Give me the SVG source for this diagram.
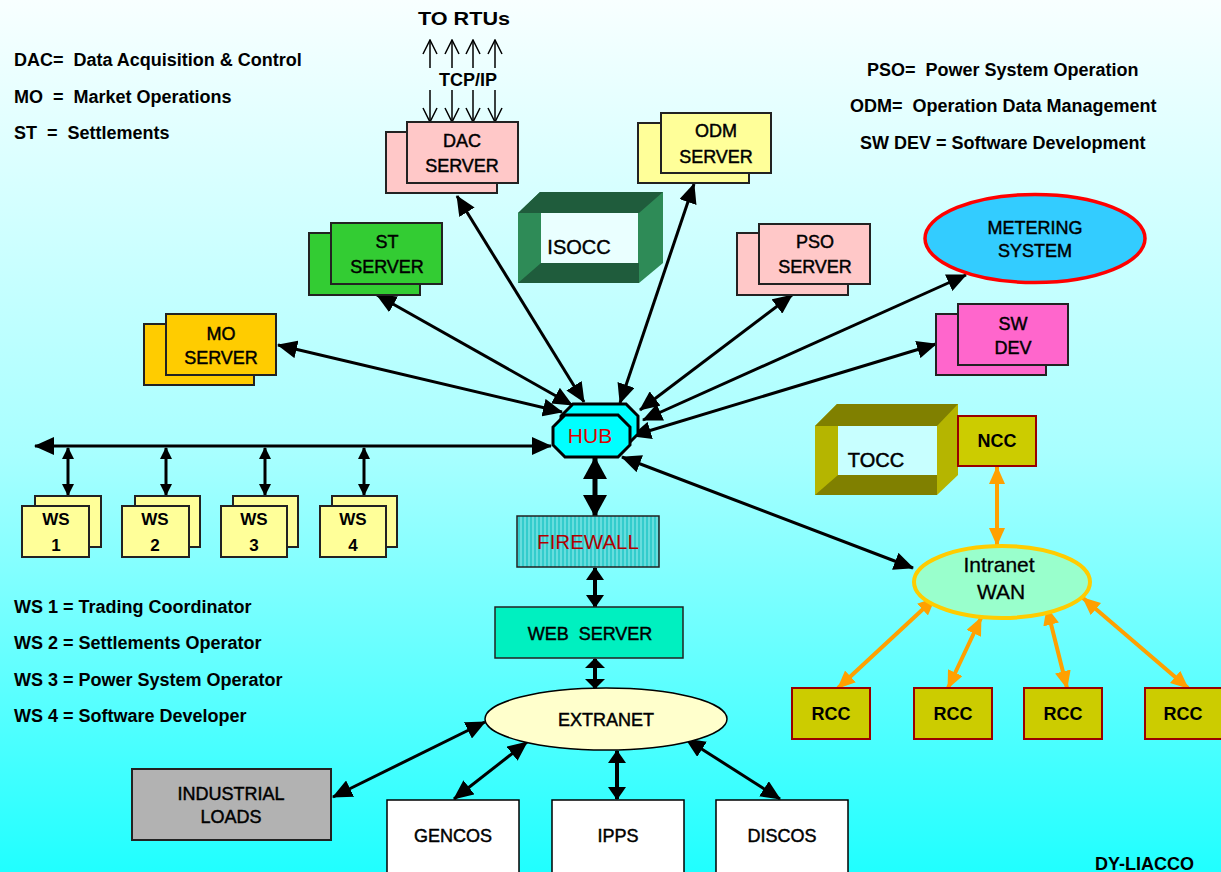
<svg xmlns="http://www.w3.org/2000/svg" width="1221" height="872" viewBox="0 0 1221 872">
<defs>
<linearGradient id="bg" x1="0" y1="0" x2="0" y2="1">
<stop offset="0" stop-color="#f8ffff"/>
<stop offset="0.52" stop-color="#a8ffff"/>
<stop offset="1" stop-color="#20ffff"/>
</linearGradient>
<pattern id="stripes" width="4" height="10" patternUnits="userSpaceOnUse">
<rect width="4" height="10" fill="#33cccc"/>
<rect width="2" height="10" fill="#66dddd"/>
</pattern>
<marker id="ab" viewBox="0 0 20 18" refX="19" refY="9" markerWidth="20" markerHeight="18" markerUnits="userSpaceOnUse" orient="auto-start-reverse"><path d="M0,0 L20,9 L0,18 z" fill="#000"/></marker>
<marker id="as" viewBox="0 0 12 12" refX="11" refY="6" markerWidth="12" markerHeight="12" markerUnits="userSpaceOnUse" orient="auto-start-reverse"><path d="M0,0 L12,6 L0,12 z" fill="#000"/></marker>
<marker id="ah" viewBox="0 0 22 24" refX="21" refY="12" markerWidth="22" markerHeight="24" markerUnits="userSpaceOnUse" orient="auto-start-reverse"><path d="M0,0 L22,12 L0,24 z" fill="#000"/></marker>
<marker id="am" viewBox="0 0 13 18" refX="12" refY="9" markerWidth="13" markerHeight="18" markerUnits="userSpaceOnUse" orient="auto-start-reverse"><path d="M0,0 L13,9 L0,18 z" fill="#000"/></marker>
<marker id="aw" viewBox="0 0 10 20" refX="9" refY="10" markerWidth="10" markerHeight="20" markerUnits="userSpaceOnUse" orient="auto-start-reverse"><path d="M0,0 L10,10 L0,20 z" fill="#000"/></marker>
<marker id="ao" viewBox="0 0 18 16" refX="17" refY="8" markerWidth="18" markerHeight="16" markerUnits="userSpaceOnUse" orient="auto-start-reverse"><path d="M0,0 L18,8 L0,16 z" fill="#ffa000"/></marker>
<marker id="ch" viewBox="0 0 16 16" refX="15" refY="8" markerWidth="16" markerHeight="16" markerUnits="userSpaceOnUse" orient="auto"><path d="M1,1 L15,8 L1,15" fill="none" stroke="#000" stroke-width="1.5"/></marker>
</defs>
<style>
text{font-family:"Liberation Sans",Arial,sans-serif;fill:#000}
.lg{font-size:18px;font-weight:bold;white-space:pre}
.lb{font-size:18px;text-anchor:middle;stroke:#000;stroke-width:0.45}
.lbb{font-size:18px;font-weight:bold;text-anchor:middle}
.ws{font-size:17px;font-weight:bold;text-anchor:middle}
.box{stroke:#222;stroke-width:2}
.c{stroke:#000;stroke-width:3;fill:none;marker-start:url(#ab);marker-end:url(#ab)}
.o{stroke:#ffa000;stroke-width:4;fill:none;marker-start:url(#ao);marker-end:url(#ao)}
.tcp{stroke:#000;stroke-width:1.5;fill:none;marker-end:url(#ch)}
.wsd{stroke:#000;stroke-width:3;fill:none;marker-start:url(#as);marker-end:url(#as)}
</style>
<rect width="1221" height="872" fill="url(#bg)"/>

<g id="legend">
<text class="lg" x="14" y="66" xml:space="preserve">DAC=  Data Acquisition &amp; Control</text>
<text class="lg" x="14" y="103" xml:space="preserve">MO  =  Market Operations</text>
<text class="lg" x="14" y="139" xml:space="preserve">ST  =  Settlements</text>
<text class="lg" x="867" y="76" xml:space="preserve">PSO=  Power System Operation</text>
<text class="lg" x="850" y="112" xml:space="preserve">ODM=  Operation Data Management</text>
<text class="lg" x="860" y="149">SW DEV = Software Development</text>
<text class="lg" x="14" y="613">WS 1 = Trading Coordinator</text>
<text class="lg" x="14" y="649">WS 2 = Settlements Operator</text>
<text class="lg" x="14" y="686">WS 3 = Power System Operator</text>
<text class="lg" x="14" y="722">WS 4 = Software Developer</text>
<text class="lg" x="1095" y="870">DY-LIACCO</text>
</g>

<g id="rtus">
<text x="464" y="25" font-size="19" font-weight="bold" text-anchor="middle" textLength="92" lengthAdjust="spacingAndGlyphs">TO RTUs</text>
<text x="468" y="86" font-size="18" font-weight="bold" text-anchor="middle">TCP/IP</text>
<line class="tcp" x1="430" y1="68" x2="430" y2="40"/>
<line class="tcp" x1="452" y1="68" x2="452" y2="40"/>
<line class="tcp" x1="473" y1="68" x2="473" y2="40"/>
<line class="tcp" x1="495" y1="68" x2="495" y2="40"/>
<line class="tcp" x1="430" y1="90" x2="430" y2="122"/>
<line class="tcp" x1="452" y1="90" x2="452" y2="122"/>
<line class="tcp" x1="473" y1="90" x2="473" y2="122"/>
<line class="tcp" x1="495" y1="90" x2="495" y2="122"/>
</g>

<g id="connectors">
<line class="c" x1="278" y1="345" x2="562" y2="412"/>
<line class="c" x1="377" y1="295" x2="572" y2="405"/>
<line class="c" x1="457" y1="196" x2="584" y2="402"/>
<line class="c" x1="694" y1="184" x2="620" y2="403"/>
<line class="c" x1="792" y1="295" x2="640" y2="410"/>
<line class="c" x1="966" y1="275" x2="643" y2="420"/>
<line class="c" x1="936" y1="344" x2="632" y2="436"/>
<line class="c" x1="913" y1="568" x2="622" y2="457"/>
<line class="c" x1="35" y1="446" x2="551" y2="446"/>
<line class="wsd" x1="68" y1="448" x2="68" y2="495"/>
<line class="wsd" x1="166" y1="448" x2="166" y2="495"/>
<line class="wsd" x1="265" y1="448" x2="265" y2="495"/>
<line class="wsd" x1="364" y1="448" x2="364" y2="495"/>
<line x1="595" y1="458" x2="595" y2="516" stroke="#000" stroke-width="5" marker-start="url(#ah)" marker-end="url(#ah)"/>
<line x1="595" y1="568" x2="595" y2="607" stroke="#000" stroke-width="4" marker-start="url(#am)" marker-end="url(#am)"/>
<line x1="595" y1="659" x2="595" y2="688" stroke="#000" stroke-width="4" marker-start="url(#aw)" marker-end="url(#aw)"/>
<line class="c" x1="485" y1="722" x2="333" y2="797"/>
<line class="c" x1="527" y1="742" x2="454" y2="799"/>
<line x1="617" y1="751" x2="617" y2="799" stroke="#000" stroke-width="4" marker-start="url(#am)" marker-end="url(#am)"/>
<line class="c" x1="686" y1="739" x2="780" y2="799"/>
<line class="o" x1="997" y1="467" x2="997" y2="545"/>
<line class="o" x1="935" y1="598" x2="838" y2="688"/>
<line class="o" x1="981" y1="618" x2="948" y2="688"/>
<line class="o" x1="1047" y1="608" x2="1067" y2="688"/>
<line class="o" x1="1083" y1="598" x2="1188" y2="688"/>
</g>

<g id="dac">
<rect class="box" x="386" y="132" width="111" height="61" fill="#ffc8c8"/>
<rect class="box" x="407" y="122" width="111" height="61" fill="#ffc8c8"/>
<text class="lb" x="462" y="147">DAC</text>
<text class="lb" x="462" y="172">SERVER</text>
</g>

<g id="odm">
<rect class="box" x="638" y="123" width="111" height="60" fill="#ffff99"/>
<rect class="box" x="661" y="113" width="110" height="60" fill="#ffff99"/>
<text class="lb" x="716" y="137">ODM</text>
<text class="lb" x="716" y="163">SERVER</text>
</g>

<g id="st">
<rect class="box" x="309" y="233" width="111" height="62" fill="#33cc33"/>
<rect class="box" x="331" y="223" width="111" height="61" fill="#33cc33"/>
<text class="lb" x="387" y="248">ST</text>
<text class="lb" x="387" y="273">SERVER</text>
</g>

<g id="pso">
<rect class="box" x="737" y="233" width="111" height="62" fill="#ffc8c8"/>
<rect class="box" x="759" y="224" width="111" height="60" fill="#ffc8c8"/>
<text class="lb" x="815" y="248">PSO</text>
<text class="lb" x="815" y="273">SERVER</text>
</g>

<g id="mo">
<rect class="box" x="144" y="324" width="110" height="61" fill="#ffcc00"/>
<rect class="box" x="166" y="314" width="110" height="61" fill="#ffcc00"/>
<text class="lb" x="221" y="340">MO</text>
<text class="lb" x="221" y="364">SERVER</text>
</g>

<g id="isocc">
<polygon points="518,213 540,192 663,192 663,263 639,283 518,283" fill="#2e8b57"/>
<polygon points="518,213 540,192 663,192 639,213" fill="#1f5c3c"/>
<polygon points="518,283 541,263 639,263 639,283" fill="#1f5c3c"/>
<rect x="541" y="213" width="97" height="50" fill="#eaffff"/>
<text x="579" y="254" font-size="20" text-anchor="middle" stroke="#000" stroke-width="0.4">ISOCC</text>
</g>

<g id="metering">
<ellipse cx="1035" cy="238.5" rx="110" ry="44" fill="#33ccff" stroke="#ff0000" stroke-width="3.5"/>
<text class="lb" x="1035" y="234">METERING</text>
<text class="lb" x="1035" y="257">SYSTEM</text>
</g>

<g id="swdev">
<rect class="box" x="936" y="314" width="110" height="61" fill="#ff66cc"/>
<rect class="box" x="958" y="304" width="110" height="61" fill="#ff66cc"/>
<text class="lb" x="1013" y="330">SW</text>
<text class="lb" x="1013" y="354">DEV</text>
</g>

<g id="hub">
<polygon points="573,404 626,404 638,416 638,434 626,446 573,446 561,434 561,416" fill="#00ffff" stroke="#000" stroke-width="3"/>
<polygon points="565,415 618,415 630,427 630,445 618,457 565,457 553,445 553,427" fill="#00ffff" stroke="#000" stroke-width="3"/>
<text x="590" y="443" font-size="21" style="fill:#dd0000" text-anchor="middle">HUB</text>
</g>

<g id="firewall">
<rect x="517" y="516" width="142" height="51" fill="url(#stripes)" stroke="#222" stroke-width="1.5"/>
<text x="588" y="549" font-size="20.5" style="fill:#b00000" text-anchor="middle">FIREWALL</text>
</g>

<g id="webserver">
<rect x="495" y="607" width="188" height="51" fill="#00f0c0" stroke="#222" stroke-width="1.5"/>
<text class="lb" x="590" y="640" xml:space="preserve" style="white-space:pre">WEB  SERVER</text>
</g>

<g id="extranet">
<ellipse cx="606" cy="719" rx="121" ry="31" fill="#ffffcc" stroke="#000" stroke-width="1.5"/>
<text class="lb" x="606" y="726">EXTRANET</text>
</g>

<g id="industrial">
<rect x="132" y="769" width="199" height="71" fill="#b2b2b2" stroke="#222" stroke-width="2"/>
<text class="lb" x="231" y="800">INDUSTRIAL</text>
<text class="lb" x="231" y="823">LOADS</text>
</g>

<g id="gencos">
<rect x="387" y="800" width="132" height="80" fill="#ffffff" stroke="#000" stroke-width="1.5"/>
<text class="lb" x="453" y="842">GENCOS</text>
</g>
<g id="ipps">
<rect x="552" y="800" width="132" height="80" fill="#ffffff" stroke="#000" stroke-width="1.5"/>
<text class="lb" x="618" y="842">IPPS</text>
</g>
<g id="discos">
<rect x="716" y="800" width="132" height="80" fill="#ffffff" stroke="#000" stroke-width="1.5"/>
<text class="lb" x="782" y="842">DISCOS</text>
</g>

<g id="ws1">
<rect class="box" x="35" y="496" width="66" height="51" fill="#ffff99"/>
<rect class="box" x="22" y="506" width="67" height="51" fill="#ffff99"/>
<text class="ws" x="56" y="525">WS</text>
<text class="ws" x="56" y="551">1</text>
</g>
<g id="ws2">
<rect class="box" x="135" y="496" width="65" height="51" fill="#ffff99"/>
<rect class="box" x="122" y="506" width="67" height="51" fill="#ffff99"/>
<text class="ws" x="155" y="525">WS</text>
<text class="ws" x="155" y="551">2</text>
</g>
<g id="ws3">
<rect class="box" x="233" y="496" width="65" height="51" fill="#ffff99"/>
<rect class="box" x="221" y="506" width="66" height="51" fill="#ffff99"/>
<text class="ws" x="254" y="525">WS</text>
<text class="ws" x="254" y="551">3</text>
</g>
<g id="ws4">
<rect class="box" x="332" y="496" width="65" height="51" fill="#ffff99"/>
<rect class="box" x="320" y="506" width="66" height="51" fill="#ffff99"/>
<text class="ws" x="353" y="525">WS</text>
<text class="ws" x="353" y="551">4</text>
</g>

<g id="tocc">
<polygon points="815,426 837,404 958,404 958,475 937,495 815,495" fill="#b5b500"/>
<polygon points="815,426 837,404 958,404 937,426" fill="#808000"/>
<polygon points="815,495 838,475 937,475 937,495" fill="#808000"/>
<rect x="838" y="426" width="99" height="49" fill="#c8ffff"/>
<text x="876" y="467" font-size="20" text-anchor="middle" stroke="#000" stroke-width="0.5">TOCC</text>
</g>

<g id="ncc">
<rect x="958" y="416" width="78" height="50" fill="#cccc00" stroke="#990000" stroke-width="2"/>
<text class="lbb" x="997" y="447">NCC</text>
</g>

<g id="intranet">
<ellipse cx="1002" cy="582" rx="88" ry="36" fill="#99ffcc" stroke="#ffcc00" stroke-width="4"/>
<text x="999" y="572" font-size="21" text-anchor="middle" stroke="#000" stroke-width="0.3">Intranet</text>
<text x="1001" y="599" font-size="21" text-anchor="middle" stroke="#000" stroke-width="0.3">WAN</text>
</g>

<g id="rcc1">
<rect x="792" y="688" width="78" height="51" fill="#cccc00" stroke="#990000" stroke-width="2"/>
<text class="lbb" x="831" y="720">RCC</text>
</g>
<g id="rcc2">
<rect x="914" y="688" width="78" height="51" fill="#cccc00" stroke="#990000" stroke-width="2"/>
<text class="lbb" x="953" y="720">RCC</text>
</g>
<g id="rcc3">
<rect x="1024" y="688" width="78" height="51" fill="#cccc00" stroke="#990000" stroke-width="2"/>
<text class="lbb" x="1063" y="720">RCC</text>
</g>
<g id="rcc4">
<rect x="1145" y="688" width="80" height="51" fill="#cccc00" stroke="#990000" stroke-width="2"/>
<text class="lbb" x="1183" y="720">RCC</text>
</g>
</svg>
